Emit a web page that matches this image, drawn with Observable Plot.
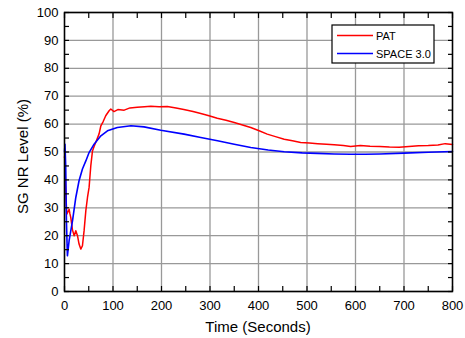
<!DOCTYPE html>
<html>
<head>
<meta charset="utf-8">
<script src="https://cdn.jsdelivr.net/npm/d3@7"></script>
<script src="https://cdn.jsdelivr.net/npm/@observablehq/plot@0.6"></script>
<style>
  html, body { margin: 0; padding: 0; background: #fff; }
  #chart { width: 465px; height: 338px; }
  svg { font-family: "Liberation Sans", Arial, sans-serif; }
</style>
</head>
<body>
<div id="chart"></div>
<script>
// ---- data ----
const patTime = [0, 0.6, 2, 4.7, 7, 9.5, 11, 13, 16.5, 20, 23.3, 26.8, 30, 33.6, 37, 40.4, 44, 47.4, 50.7, 54.2, 57.7, 61, 64.5, 71.3, 75, 80, 85, 92, 95.5, 102, 110, 123, 135, 150, 165, 178, 195, 212, 230, 246, 265, 281, 298, 315, 333, 350, 367, 384, 400, 418, 435, 453, 470, 487, 505, 522, 540, 556, 575, 590, 610, 630, 650, 670, 690, 710, 730, 750, 770, 785, 800];
const patLevel = [48, 49, 38, 27.7, 28.5, 29.5, 28, 26.5, 22, 20, 21.8, 20, 17, 15.2, 16.4, 21.8, 29, 33.7, 37.3, 45, 50.4, 52, 53.5, 56.5, 59.4, 61, 63, 64.8, 65.4, 64.5, 65.2, 65, 65.8, 66, 66.2, 66.4, 66.2, 66.3, 65.8, 65.2, 64.5, 63.8, 63, 62.1, 61.4, 60.6, 59.7, 58.8, 57.7, 56.4, 55.5, 54.6, 54, 53.4, 53.2, 53, 52.8, 52.6, 52.3, 52, 52.3, 52.1, 52, 51.8, 51.7, 52, 52.2, 52.3, 52.5, 53, 52.7];

const spaceTime = [0, 1, 2.5, 4, 6, 9.5, 16.5, 23.3, 30, 37, 44, 50.7, 61, 75, 88.6, 109, 137, 164, 198.6, 246.6, 281, 315.5, 350, 384, 420, 453, 490, 521.6, 556, 590, 620, 650, 700, 750, 800];
const spaceLevel = [50, 52.8, 45, 25, 12.8, 18.2, 25.3, 33.7, 39.7, 43.9, 46.8, 49.8, 52.8, 55.8, 57.6, 58.8, 59.4, 59, 57.8, 56.4, 55.2, 54, 52.8, 51.6, 50.7, 50.1, 49.7, 49.5, 49.3, 49.2, 49.2, 49.3, 49.6, 49.9, 50.2];

const seriesNames = ["PAT", "SPACE 3.0"];
const seriesColors = ["#ff0000", "#0000ff"];
const xMajorTicks = [0, 100, 200, 300, 400, 500, 600, 700, 800];
const xMinorTicks = [50, 150, 250, 350, 450, 550, 650, 750];
const yMajorTicks = [0, 10, 20, 30, 40, 50, 60, 70, 80, 90, 100];
const yMinorTicks = [5, 15, 25, 35, 45, 55, 65, 75, 85, 95];
const xLabel = "Time (Seconds)";
const yLabel = "SG NR Level (%)";

const pat = patTime.map((t, i) => ({t, v: patLevel[i]}));
const space = spaceTime.map((t, i) => ({t, v: spaceLevel[i]}));
const allX = xMajorTicks.concat(xMinorTicks);
const allY = yMajorTicks.concat(yMinorTicks);

const W = 465, H = 338;
const plot = Plot.plot({
  width: W,
  height: H,
  marginLeft: 64,
  marginRight: 13,
  marginTop: 12,
  marginBottom: 47,
  style: {fontFamily: '"Liberation Sans", Arial, sans-serif', fontSize: "13px", background: "#fff", color: "#000"},
  x: {domain: [0, 800]},
  y: {domain: [0, 100]},
  marks: [
    Plot.gridX(xMajorTicks, {stroke: "#999", strokeOpacity: 1, strokeWidth: 1.3}),
    Plot.gridY(yMajorTicks, {stroke: "#999", strokeOpacity: 1, strokeWidth: 1.3}),
    Plot.line(pat, {x: "t", y: "v", stroke: seriesColors[0], strokeWidth: 1.5}),
    Plot.line(space, {x: "t", y: "v", stroke: seriesColors[1], strokeWidth: 1.6}),
    Plot.axisX({ticks: xMajorTicks, tickSize: 0, tickPadding: 9, label: null, fontSize: 13, tickFormat: d3.format("d")}),
    Plot.axisX({ticks: allX, tickSize: -5, text: null, label: null, strokeWidth: 1.2}),
    Plot.axisX({anchor: "top", ticks: allX, tickSize: -5, text: null, label: null, strokeWidth: 1.2}),
    Plot.axisY({ticks: yMajorTicks, tickSize: 0, tickPadding: 6, label: null, fontSize: 13, tickFormat: d3.format("d")}),
    Plot.axisY({ticks: allY, tickSize: -5, text: null, label: null, strokeWidth: 1.2}),
    Plot.axisY({anchor: "right", ticks: allY, tickSize: -5, text: null, label: null, strokeWidth: 1.2}),
    Plot.frame({stroke: "#000", strokeWidth: 1.5})
  ]
});
document.getElementById("chart").appendChild(plot);

// axis titles and legend
const svg = d3.select(plot);
svg.append("text")
  .attr("x", (64 + (W - 13)) / 2).attr("y", 332)
  .attr("text-anchor", "middle")
  .attr("font-size", 15).attr("fill", "#000")
  .text(xLabel);
svg.append("text")
  .attr("transform", `translate(28,${(12 + (H - 47)) / 2 + 5}) rotate(-90)`)
  .attr("text-anchor", "middle")
  .attr("font-size", 15).attr("fill", "#000")
  .text(yLabel);

const lg = svg.append("g").attr("transform", "translate(332,25)");
lg.append("rect").attr("width", 102).attr("height", 38)
  .attr("fill", "#fff").attr("stroke", "#000").attr("stroke-width", 1.2);
seriesNames.forEach((name, i) => {
  const yy = 10.5 + i * 18;
  lg.append("line").attr("x1", 5).attr("x2", 41).attr("y1", yy).attr("y2", yy)
    .attr("stroke", seriesColors[i]).attr("stroke-width", 1.5);
  lg.append("text").attr("x", 44).attr("y", yy + 4)
    .attr("text-anchor", "start")
    .attr("font-size", 11).attr("fill", "#000").text(name);
});
</script>
</body>
</html>
